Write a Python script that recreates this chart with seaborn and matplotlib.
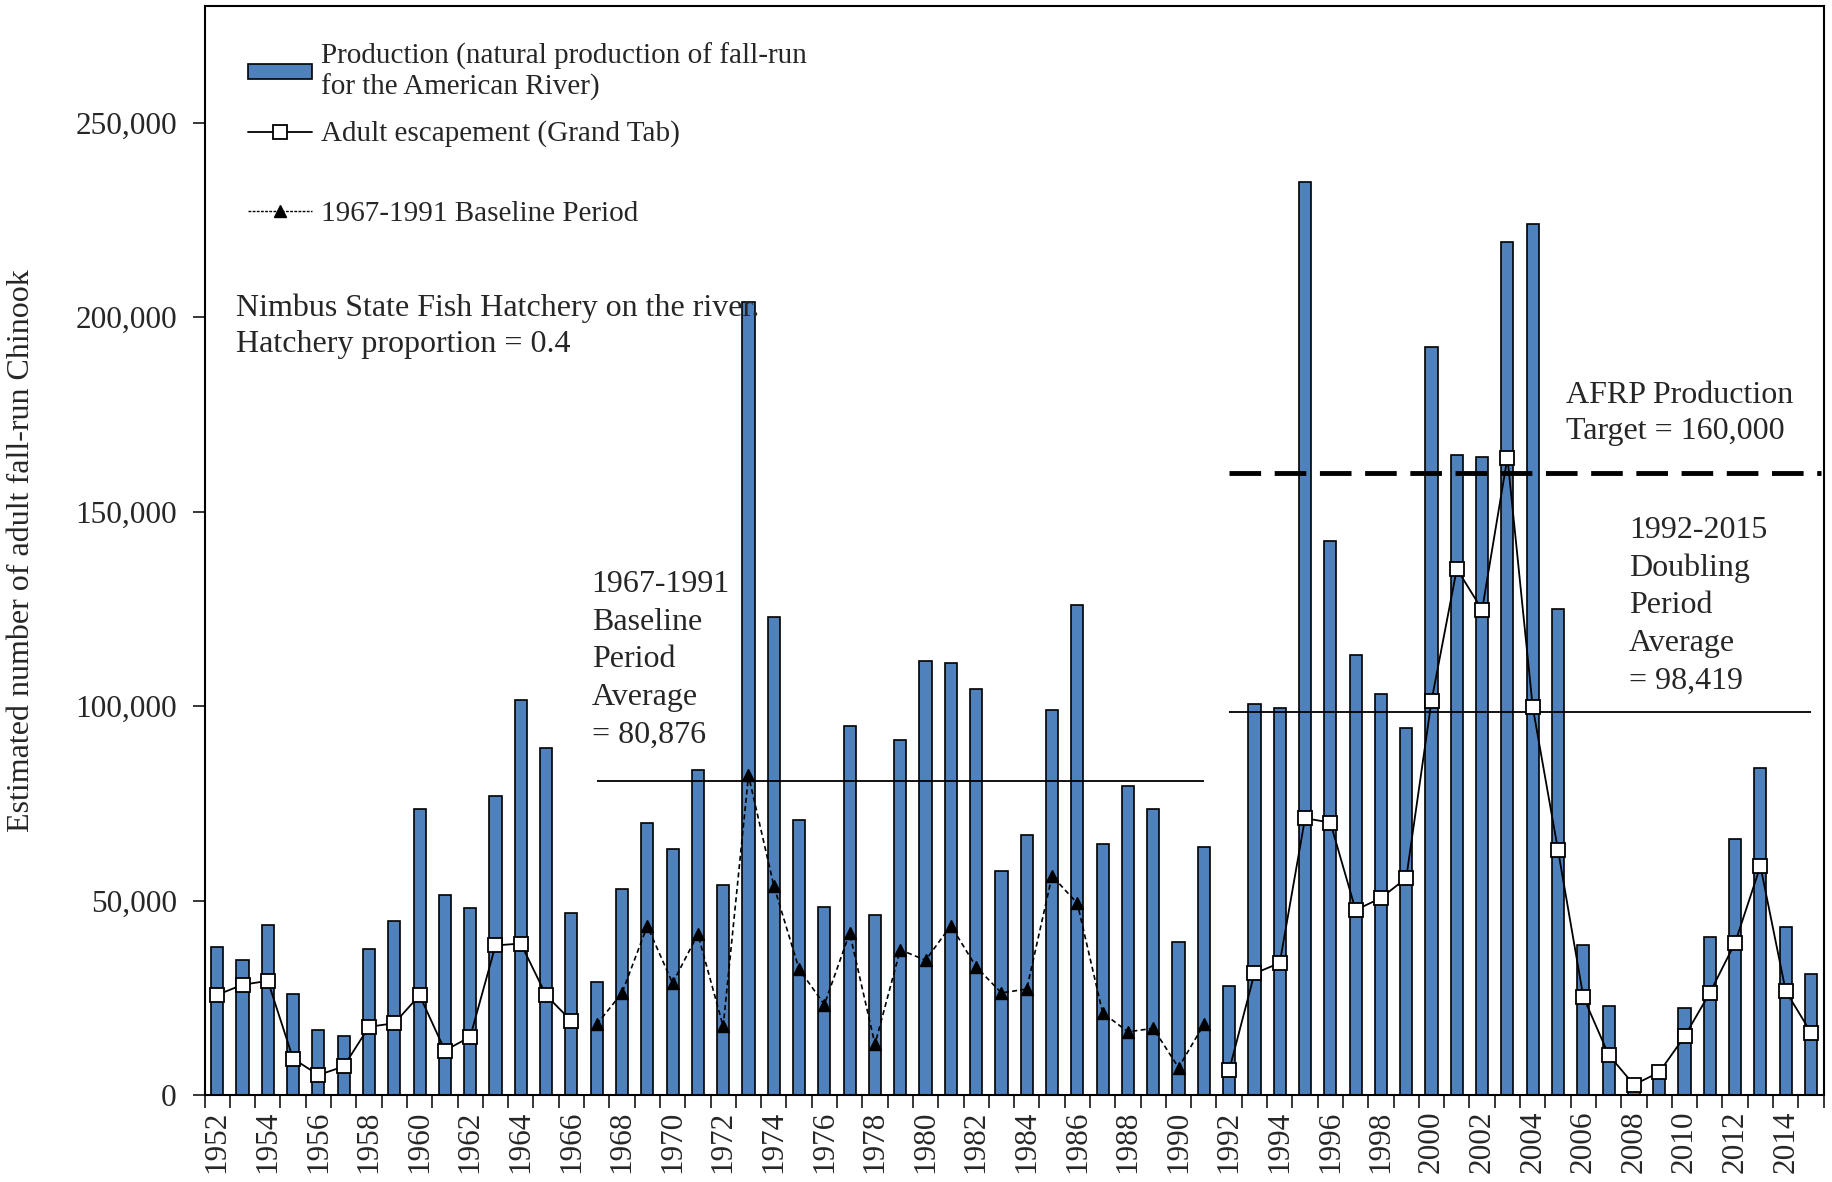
import numpy as np
import pandas as pd
import matplotlib
matplotlib.use('Agg')
import matplotlib.pyplot as plt
from matplotlib.lines import Line2D
from matplotlib.patches import Patch
from matplotlib.ticker import FixedLocator, FuncFormatter
import seaborn as sns

# American River fall-run Chinook: production and escapement
years = list(range(1952, 2016))
production = [38200, 34700, 43800, 26000, 16800, 15300, 37700, 44900, 73500, 51500,
              48000, 77000, 101500, 89200, 46900,
              29100, 53000, 69900, 63200, 83700, 54100, 203800, 122900, 70800, 48400,
              94900, 46300, 91200, 111700, 111200, 104500, 57600, 66900, 98900, 126000,
              64700, 79500, 73500, 39300, 63800,
              28100, 100500, 99500, 234800, 142500, 113200, 103100, 94400, 192200, 164500,
              164000, 219300, 224000, 125000, 38700, 22900, 1800, 4500, 22400, 40800,
              65800, 84100, 43200, 31100]
esc_early = [25800, 28400, 29400, 9400, 5200, 7400, 17600, 18500, 25700, 11500,
             15000, 38500, 39000, 25700, 19100]            # 1952-1966
esc_base = [18200, 26300, 43500, 28800, 41400, 17700, 82200, 53900, 32400, 23300,
            41700, 13100, 37400, 34700, 43600, 33000, 26300, 27300, 56400, 49300,
            21200, 16300, 17200, 7100, 18200]              # 1967-1991
esc_late = [6400, 31300, 34000, 71200, 70100, 47600, 50700, 55800, 101400, 135300,
            124800, 163900, 99800, 63000, 25300, 10400, 2700, 5900, 15100, 26300,
            39200, 58900, 26800, 16100]                    # 1992-2015
base_avg = 80876
doubling_avg = 98419
afrp_target = 160000

bar_color = '#4F81BD'

sns.set_style('ticks')
plt.rcParams['font.family'] = ['Liberation Serif', 'DejaVu Serif']
plt.rcParams['axes.edgecolor'] = 'black'
plt.rcParams['axes.linewidth'] = 1.5

df = pd.DataFrame({'year': years, 'production': production})

fig, ax = plt.subplots(figsize=(18.33, 11.82), dpi=100)
fig.subplots_adjust(left=0.1116, right=0.9949, top=0.995, bottom=0.0734)

sns.barplot(data=df, x='year', y='production', color=bar_color, saturation=1,
            width=0.48, edgecolor='black', linewidth=1.2, errorbar=None, ax=ax)

i1 = len(esc_early)
i2 = i1 + len(esc_base)
x_early = np.arange(0, i1)
x_base = np.arange(i1, i2)
x_late = np.arange(i2, i2 + len(esc_late))

sq = dict(color='black', lw=1.3, marker='s', ms=9.5, mfc='white', mec='black', mew=1.3)
tri = dict(color='black', lw=1.2, ls=(0, (3, 2)), marker='^', ms=9, mfc='black', mec='black')
ax.plot(x_early, esc_early, zorder=4, **sq)
ax.plot(x_late, esc_late, zorder=4, **sq)
ax.plot(x_base, esc_base, zorder=4, **tri)

# averages and target
ax.hlines(base_avg, x_base[0], x_base[-1], colors='black', lw=1.3, zorder=3)
ax.hlines(doubling_avg, x_late[0], x_late[-1], colors='black', lw=1.3, zorder=3)
ax.plot([x_late[0], len(years) - 0.6], [afrp_target, afrp_target], color='black',
        lw=3.5, ls=(0, (6.5, 2.8)), zorder=3)

# axes
ax.set_xlim(-0.5, len(years) - 0.5)
ax.set_ylim(0, 280000)
ax.set_yticks(range(0, 250001, 50000))
ax.yaxis.set_major_formatter(FuncFormatter(lambda v, p: f'{int(v):,}'))
ax.set_xticks(range(0, len(years), 2))
ax.set_xticklabels([str(y) for y in years[::2]], rotation=90)
ax.xaxis.set_minor_locator(FixedLocator(np.arange(-0.5, len(years), 1)))
ax.tick_params(axis='x', which='major', length=0, pad=11, labelsize=22.5)
ax.tick_params(axis='x', which='minor', length=9, width=1.3, direction='out')
ax.tick_params(axis='y', length=9, width=1.3, direction='out', pad=11, labelsize=22.5)
ax.set_xlabel('')
ax.set_ylabel('Estimated number of adult fall-run Chinook', fontsize=23)
ax.yaxis.set_label_coords(-0.104, 0.5)
for s in ax.spines.values():
    s.set_visible(True)
    s.set_color('black')

# annotations
txt = dict(fontsize=23, va='top', ha='left')
ax.text(0.74, 206000, 'Nimbus State Fish Hatchery on the river.\nHatchery proportion = 0.4',
        linespacing=1.32, **txt)
ax.text(14.8, 135000, '1967-1991\nBaseline\nPeriod\nAverage\n= 80,876', linespacing=1.39, **txt)
ax.text(53.3, 183500, 'AFRP Production\nTarget = 160,000', linespacing=1.32, **txt)
ax.text(55.8, 149000, '1992-2015\nDoubling\nPeriod\nAverage\n= 98,419', linespacing=1.39, **txt)

# legend
h1 = [Patch(facecolor=bar_color, edgecolor='black', lw=1.2), Line2D([], [], **sq)]
l1 = ['Production (natural production of fall-run\nfor the American River)',
      'Adult escapement (Grand Tab)']
leg1 = ax.legend(h1, l1, loc='upper left', bbox_to_anchor=(0.0267, 0.966), frameon=False,
                 fontsize=21, handlelength=2.2, handleheight=0.4, handletextpad=0.3,
                 labelspacing=0.65, borderpad=0, borderaxespad=0)
for t in leg1.get_texts():
    t.set_linespacing(1.18)
ax.add_artist(leg1)
h2 = [Line2D([], [], color='black', lw=1.0, ls=(0, (2, 1)), marker='^', ms=9,
             mfc='black', mec='black')]
ax.legend(h2, ['1967-1991 Baseline Period'], loc='upper left', bbox_to_anchor=(0.0267, 0.821),
          frameon=False, fontsize=21, handlelength=2.2, handletextpad=0.3,
          borderpad=0, borderaxespad=0)

fig.savefig('out.png', dpi=100)
